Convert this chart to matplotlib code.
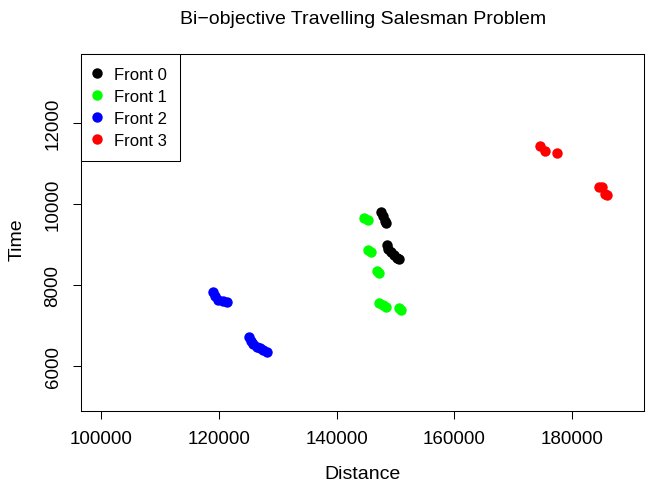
import numpy as np
import matplotlib
matplotlib.use("Agg")
import matplotlib.pyplot as plt

plt.rcParams['font.family'] = ['Liberation Sans', 'DejaVu Sans']

# front 0 (black)
f0_dist = [147575, 147915, 148255, 148425, 148509, 148679, 149189, 149698, 150208, 150547]
f0_time = [9792, 9693, 9581, 9532, 8987, 8888, 8814, 8740, 8666, 8653]
# front 1 (green)
f1_dist = [144607, 145287, 145372, 145796, 146815, 147155, 147201, 147829, 148339, 150547, 150887]
f1_time = [9656, 9606, 8864, 8814, 8344, 8294, 7552, 7502, 7453, 7428, 7379]
# front 2 (blue)
f2_dist = [118904, 119295, 119856, 120705, 121282, 125070, 125358, 125800, 126378, 126938, 127499, 128076]
f2_time = [7817, 7718, 7634, 7594, 7584, 6718, 6619, 6537, 6470, 6431, 6396, 6347]
# front 3 (red)
f3_dist = [174496, 175345, 177502, 184518, 185147, 185538, 185928]
f3_time = [11430, 11321, 11257, 10430, 10415, 10250, 10225]

fronts = [(f0_dist, f0_time, 'black', 'Front 0'),
          (f1_dist, f1_time, '#00ff00', 'Front 1'),
          (f2_dist, f2_time, '#0000ff', 'Front 2'),
          (f3_dist, f3_time, '#ff0000', 'Front 3')]

W, H = 646, 485
fig = plt.figure(figsize=(W/100, H/100), dpi=100)
ax = fig.add_axes([80.7/W, 1-411.7/H, (644.5-80.7)/W, (411.7-55)/H])

for d, t, c, lab in fronts:
    ax.plot(d, t, 'o', color=c, markersize=7.5, markeredgewidth=0, label=lab)

ax.set_xlim(96484, 192331)
ax.set_ylim(4886, 13715)
ax.set_xticks(np.arange(100000, 180001, 20000))
ax.set_yticks(np.arange(6000, 12001, 2000))
ax.tick_params(direction='out', length=5.8, width=0.75, labelsize=13.5, pad=8)
for lbl in ax.get_yticklabels():
    lbl.set_rotation(90)
    lbl.set_va('center')
for s in ax.spines.values():
    s.set_linewidth(0.75)

leg = ax.legend(loc='upper left', borderaxespad=0, fancybox=False, framealpha=1,
                edgecolor='black', fontsize=12, handletextpad=0.8,
                labelspacing=0.41, borderpad=0.79, handlelength=0.4, markerscale=1.0)
leg.get_frame().set_linewidth(0.75)

fig.text(362.8/W, 1-20/H, 'Bi\u2212objective Travelling Salesman Problem',
         ha='center', va='center', fontsize=14)
fig.text(362.8/W, 1-475/H, 'Distance', ha='center', va='center', fontsize=14)
fig.text(17/W, 1-240/H, 'Time', ha='center', va='center', fontsize=14, rotation=90)

fig.savefig('out.png', dpi=100)
